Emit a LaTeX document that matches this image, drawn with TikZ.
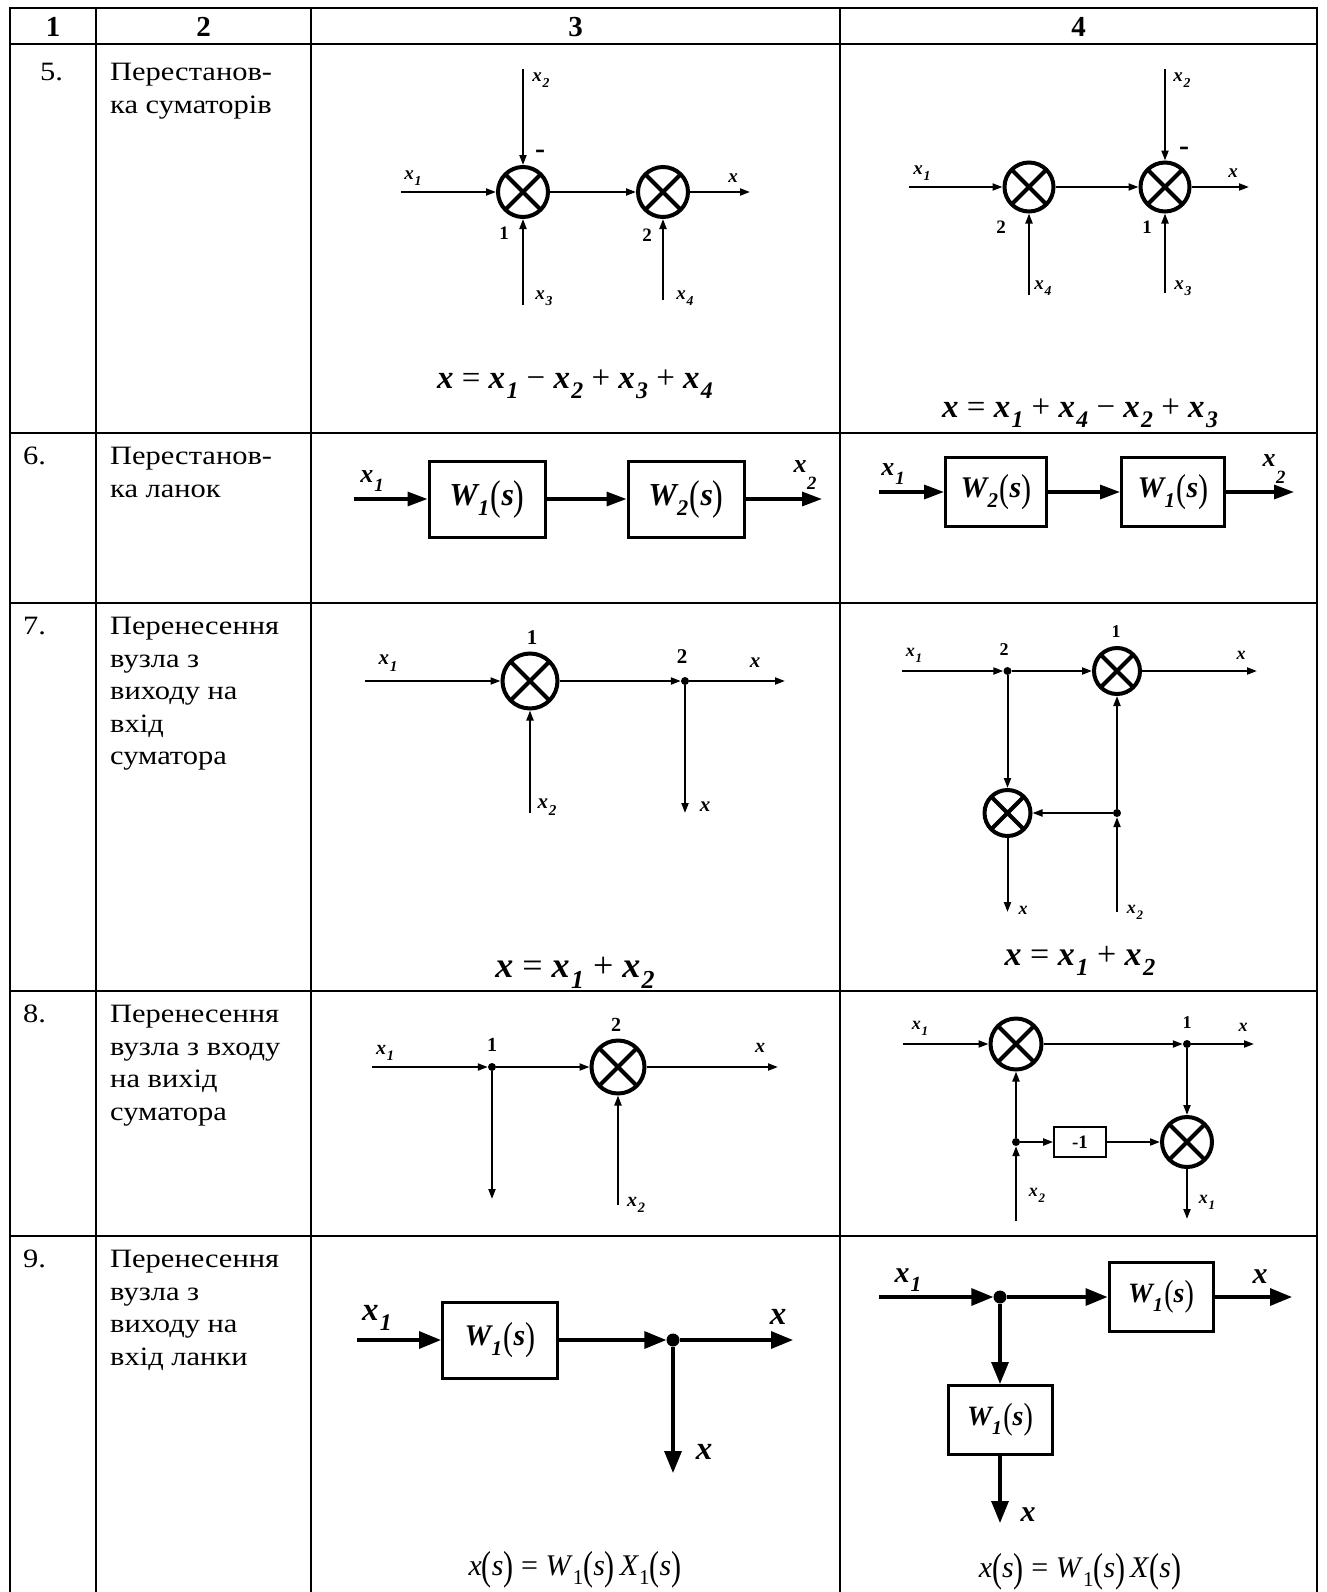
\documentclass[tikz,border=0pt]{standalone}
\usepackage{fontspec}
\setmainfont{Liberation Serif}
\newfontfamily\tabfont{Liberation Serif}[FakeStretch=1.15]
\usetikzlibrary{arrows.meta}
\newcommand\fsz[1]{\fontsize{#1}{#1}\selectfont}
\newcommand\bi[1]{\textbf{\textit{#1}}}
\newcommand\xs[1]{\bi{x}\kern0.04em\raisebox{-0.32em}{\scalebox{0.72}{\bi{#1}}}}
\newcommand\xd[1]{\bi{x}\kern0.02em\raisebox{-0.65em}{\scalebox{0.72}{\bi{#1}}}}
\newcommand\bpar[1]{\raisebox{-0.12em}{\scalebox{1}[1.3]{(}}#1\raisebox{-0.12em}{\scalebox{1}[1.3]{)}}}
\newcommand\Wb[1]{\bi{W}\kern-0.05em\raisebox{-0.32em}{\scalebox{0.7}{\bi{#1}}}\kern0.05em\bpar{\bi{s}}}
\newcommand\sbr[1]{\raisebox{-0.3em}{\scalebox{0.7}{#1}}}
\newcommand\rpar[1]{\raisebox{-0.15em}{\scalebox{1}[1.35]{(}}#1\raisebox{-0.15em}{\scalebox{1}[1.35]{)}}}
\tikzset{
  tabline/.style={line width=2.5pt,line cap=rect},
  lb/.style={inner sep=0pt},
  con/.style={line width=2pt,-{Triangle[length=10pt,width=7pt]}},
  bcon/.style={line width=3.2pt,-{Triangle[length=20pt,width=14pt]}},
  vcon/.style={line width=3.3pt,-{Triangle[length=22pt,width=17pt]}},
  sumx/.style={circle,draw,line width=4pt,inner sep=0pt,
     path picture={\draw[line width=4pt] (path picture bounding box.north west) -- (path picture bounding box.south east) (path picture bounding box.north east) -- (path picture bounding box.south west);}},
  dotn/.style={circle,fill,inner sep=0pt,minimum size=8pt},
  blk/.style={draw,line width=3pt,inner sep=0pt},
  ctext/.style={anchor=north west,align=left,inner sep=0pt,font=\tabfont\fontsize{26.5}{32.5}\selectfont},
  hdr/.style={inner sep=0pt,font=\fsz{29}\bfseries},
  minus/.style={inner sep=0pt,font=\fsz{30}\bfseries},
}
\begin{document}
\begin{tikzpicture}[x=1pt,y=-1pt]
\useasboundingbox (0,0) rectangle (1327,1592);
% ---------- table ----------
\foreach \yy in {8,44,433,603,991,1236} \draw[tabline] (10,\yy) -- (1317,\yy);
\foreach \xx in {10,96,311,840,1317} \draw[tabline] (\xx,8) -- (\xx,1592);
\node[hdr] (hd1) at (53,27) {1};
\node[hdr] (hd2) at (203.5,27) {2};
\node[hdr] (hd3) at (575.5,27) {3};
\node[hdr] (hd4) at (1078.5,27) {4};
\node[ctext] (n5) at (40,63) {5.};
\node[ctext] (n6) at (23,447) {6.};
\node[ctext] (n7) at (23,617) {7.};
\node[ctext] (n8) at (23,1005) {8.};
\node[ctext] (n9) at (23,1250) {9.};
\node[ctext] (t5) at (110,63) {Перестанов-\\ка суматорів};
\node[ctext] (t6) at (110,447) {Перестанов-\\ка ланок};
\node[ctext] (t7) at (110,617) {Перенесення\\вузла з\\виходу на\\вхід\\суматора};
\node[ctext] (t8) at (110,1005) {Перенесення\\вузла з входу\\на вихід\\суматора};
\node[ctext] (t9) at (110,1250) {Перенесення\\вузла з\\виходу на\\вхід ланки};
% ---------- row 5, col 3 ----------
\node[sumx,minimum size=50pt] (a1) at (523,192) {};
\node[sumx,minimum size=50pt] (a2) at (663,192) {};
\coordinate (a1in) at (401,192);
\coordinate (a2out) at (750,192);
\coordinate (a1top) at (523,69);
\coordinate (a1bot) at (523,305);
\coordinate (a2bot) at (663,300);
\draw[con] (a1in) -- (a1);
\draw[con] (a1) -- (a2);
\draw[con] (a2) -- (a2out);
\draw[con] (a1top) -- (a1);
\draw[con] (a1bot) -- (a1);
\draw[con] (a2bot) -- (a2);
\node[lb,font=\fsz{19}] (a1l) at (413,178) {\xs{1}};
\node[lb,font=\fsz{19}] (a2l) at (733,178) {\bi{x}};
\node[lb,font=\fsz{19}] (a1tl) at (541,80) {\xs{2}};
\node[minus] (a1m) at (540,154) {-};
\node[lb,font=\fsz{19}\bfseries] (a1n) at (504,233) {1};
\node[lb,font=\fsz{19}\bfseries] (a2n) at (647,235) {2};
\node[lb,font=\fsz{19}] (a1bl) at (544,298) {\xs{3}};
\node[lb,font=\fsz{19}] (a2bl) at (685,298) {\xs{4}};
\node[lb,font=\fsz{33},anchor=base] (a5f) at (575,388) {\bi{x} = \xs{1} − \xs{2} + \xs{3} + \xs{4}};
% ---------- row 5, col 4 ----------
\node[sumx,minimum size=49pt] (b2) at (1029,187) {};
\node[sumx,minimum size=49pt] (b1) at (1165,187) {};
\coordinate (b2in) at (909,187);
\coordinate (b1out) at (1249,187);
\coordinate (b1top) at (1165,69);
\coordinate (b2bot) at (1029,295);
\coordinate (b1bot) at (1165,293);
\draw[con] (b2in) -- (b2);
\draw[con] (b2) -- (b1);
\draw[con] (b1) -- (b1out);
\draw[con] (b1top) -- (b1);
\draw[con] (b2bot) -- (b2);
\draw[con] (b1bot) -- (b1);
\node[lb,font=\fsz{19}] (b2l) at (922,173) {\xs{1}};
\node[lb,font=\fsz{19}] (b1l) at (1233,173) {\bi{x}};
\node[lb,font=\fsz{19}] (b1tl) at (1182,80) {\xs{2}};
\node[minus] (b1m) at (1184,151) {-};
\node[lb,font=\fsz{19}\bfseries] (b2n) at (1001,227) {2};
\node[lb,font=\fsz{19}\bfseries] (b1n) at (1147,227) {1};
\node[lb,font=\fsz{19}] (b2bl) at (1043,288) {\xs{4}};
\node[lb,font=\fsz{19}] (b1bl) at (1183,288) {\xs{3}};
\node[lb,font=\fsz{33},anchor=base] (b5f) at (1080,417) {\bi{x} = \xs{1} + \xs{4} − \xs{2} + \xs{3}};
% ---------- row 6, col 3 ----------
\node[blk,minimum width=116pt,minimum height=76pt,font=\fsz{32}] (c1) at (487,499) {\Wb{1}};
\node[blk,minimum width=116pt,minimum height=76pt,font=\fsz{32}] (c2) at (686,499) {\Wb{2}};
\coordinate (c1in) at (354,499);
\coordinate (c2out) at (822,499);
\draw[bcon] (c1in) -- (c1);
\draw[bcon] (c1) -- (c2);
\draw[bcon] (c2) -- (c2out);
\node[lb,font=\fsz{26}] (c1l) at (372,481) {\xs{1}};
\node[lb,font=\fsz{26}] (c2l) at (805,475) {\xd{2}};
% ---------- row 6, col 4 ----------
\node[blk,minimum width=101pt,minimum height=69pt,font=\fsz{30}] (d2) at (996,492) {\Wb{2}};
\node[blk,minimum width=103pt,minimum height=69pt,font=\fsz{30}] (d1) at (1173,492) {\Wb{1}};
\coordinate (d2in) at (879,492);
\coordinate (d1out) at (1294,492);
\draw[bcon] (d2in) -- (d2);
\draw[bcon] (d2) -- (d1);
\draw[bcon] (d1) -- (d1out);
\node[lb,font=\fsz{26}] (d2l) at (893,474) {\xs{1}};
\node[lb,font=\fsz{26}] (d1l) at (1274,469) {\xd{2}};
% ---------- row 7, col 3 ----------
\node[sumx,minimum size=55pt] (e1) at (530,681) {};
\node[dotn] (e2) at (685,681) {};
\coordinate (e1in) at (365,681);
\coordinate (e2out) at (785,681);
\coordinate (e2dn) at (685,813);
\coordinate (e1x2) at (530,813);
\draw[con] (e1in) -- (e1);
\draw[con] (e1) -- (e2);
\draw[con] (e2) -- (e2out);
\draw[con] (e2) -- (e2dn);
\draw[con] (e1x2) -- (e1);
\node[lb,font=\fsz{21}\bfseries] (e1n) at (532,638) {1};
\node[lb,font=\fsz{21}\bfseries] (e2n) at (682,657) {2};
\node[lb,font=\fsz{21}] (e1l) at (388,663) {\xs{1}};
\node[lb,font=\fsz{21}] (e2l) at (755,663) {\bi{x}};
\node[lb,font=\fsz{21}] (e2dl) at (705,807) {\bi{x}};
\node[lb,font=\fsz{21}] (e1xl) at (547,807) {\xs{2}};
\node[lb,font=\fsz{36},anchor=base] (e7f) at (575,977) {\bi{x} = \xs{1} + \xs{2}};
% ---------- row 7, col 4 ----------
\node[dotn] (f0) at (1007.5,671) {};
\node[sumx,minimum size=46pt] (f1) at (1117,671) {};
\node[sumx,minimum size=46pt] (f2) at (1007.5,813) {};
\node[dotn] (f3) at (1117,813) {};
\coordinate (f0in) at (902,671);
\coordinate (f1out) at (1257,671);
\coordinate (f3x2) at (1117,912);
\coordinate (f2out) at (1007.5,912);
\draw[con] (f0in) -- (f0);
\draw[con] (f0) -- (f1);
\draw[con] (f1) -- (f1out);
\draw[con] (f0) -- (f2);
\draw[con] (f3) -- (f2);
\draw[con] (f3) -- (f1);
\draw[con] (f3x2) -- (f3);
\draw[con] (f2) -- (f2out);
\node[lb,font=\fsz{18}\bfseries] (f0n) at (1004,650) {2};
\node[lb,font=\fsz{18}\bfseries] (f1n) at (1116,632) {1};
\node[lb,font=\fsz{18}] (f0l) at (914,655) {\xs{1}};
\node[lb,font=\fsz{18}] (f1l) at (1241,655) {\bi{x}};
\node[lb,font=\fsz{18}] (f3l) at (1135,912) {\xs{2}};
\node[lb,font=\fsz{18}] (f2l) at (1023,910) {\bi{x}};
\node[lb,font=\fsz{34},anchor=base] (f7f) at (1080,965) {\bi{x} = \xs{1} + \xs{2}};
% ---------- row 8, col 3 ----------
\node[dotn] (g0) at (492,1067) {};
\node[sumx,minimum size=53pt] (g1) at (618,1067) {};
\coordinate (g0in) at (372,1067);
\coordinate (g1out) at (778,1067);
\coordinate (g0dn) at (492,1199);
\coordinate (g1x2) at (618,1205);
\draw[con] (g0in) -- (g0);
\draw[con] (g0) -- (g1);
\draw[con] (g1) -- (g1out);
\draw[con] (g0) -- (g0dn);
\draw[con] (g1x2) -- (g1);
\node[lb,font=\fsz{20}\bfseries] (g0n) at (492,1045) {1};
\node[lb,font=\fsz{20}\bfseries] (g1n) at (616,1025) {2};
\node[lb,font=\fsz{20}] (g0l) at (385,1053) {\xs{1}};
\node[lb,font=\fsz{20}] (g1l) at (760,1048) {\bi{x}};
\node[lb,font=\fsz{20}] (g1xl) at (636,1205) {\xs{2}};
% ---------- row 8, col 4 ----------
\node[sumx,minimum size=51pt] (k1) at (1016,1044) {};
\node[dotn] (k0) at (1187,1044) {};
\node[sumx,minimum size=50pt] (k2) at (1187,1142) {};
\node[dotn] (k3) at (1016,1142) {};
\node[draw,line width=1.7pt,minimum width=52pt,minimum height=30pt,inner sep=0pt,font=\fsz{19}\bfseries] (kb) at (1080,1142) {-1};
\coordinate (k1in) at (903,1044);
\coordinate (k0out) at (1254,1044);
\coordinate (k3x2) at (1016,1221);
\coordinate (k2out) at (1187,1219);
\draw[con] (k1in) -- (k1);
\draw[con] (k1) -- (k0);
\draw[con] (k0) -- (k0out);
\draw[con] (k0) -- (k2);
\draw[con] (k3) -- (k1);
\draw[con] (k3) -- (kb);
\draw[con] (kb) -- (k2);
\draw[con] (k3x2) -- (k3);
\draw[con] (k2) -- (k2out);
\node[lb,font=\fsz{18}\bfseries] (k0n) at (1187,1023) {1};
\node[lb,font=\fsz{18}] (k1l) at (920,1028) {\xs{1}};
\node[lb,font=\fsz{18}] (k0l) at (1243,1027) {\bi{x}};
\node[lb,font=\fsz{18}] (k3l) at (1037,1195) {\xs{2}};
\node[lb,font=\fsz{18}] (k2l) at (1207,1202) {\xs{1}};
% ---------- row 9, col 3 ----------
\node[blk,minimum width=115pt,minimum height=76pt,font=\fsz{30}] (m1) at (500,1340) {\Wb{1}};
\node[dotn,minimum size=13pt] (m0) at (673,1340) {};
\coordinate (m1in) at (357,1340);
\coordinate (m0out) at (793,1340);
\coordinate (m0dn) at (673,1473);
\draw[vcon] (m1in) -- (m1);
\draw[vcon] (m1) -- (m0);
\draw[vcon] (m0) -- (m0out);
\draw[vcon] (m0) -- (m0dn);
\node[lb,font=\fsz{33}] (m1l) at (377,1318) {\xs{1}};
\node[lb,font=\fsz{33}] (m0l) at (778,1317) {\bi{x}};
\node[lb,font=\fsz{33}] (m0dl) at (704,1452) {\bi{x}};
\node[lb,font=\fsz{30},anchor=base] (m9f) at (575,1575) {\textit{x}\rpar{\textit{s}} = \textit{W}\sbr{1}\rpar{\textit{s}}\,\textit{X}\sbr{1}\rpar{\textit{s}}};
% ---------- row 9, col 4 ----------
\node[dotn,minimum size=13pt] (p0) at (1000,1297) {};
\node[blk,minimum width=104pt,minimum height=69pt,font=\fsz{28}] (p1) at (1161,1297) {\Wb{1}};
\node[blk,minimum width=104pt,minimum height=69pt,font=\fsz{28}] (p2) at (1000,1420) {\Wb{1}};
\coordinate (p0in) at (879,1297);
\coordinate (p1out) at (1292,1297);
\coordinate (p2dn) at (1000,1523);
\draw[vcon] (p0in) -- (p0);
\draw[vcon] (p0) -- (p1);
\draw[vcon] (p1) -- (p1out);
\draw[vcon] (p0) -- (p2);
\draw[vcon] (p2) -- (p2dn);
\node[lb,font=\fsz{30}] (p0l) at (908,1280) {\xs{1}};
\node[lb,font=\fsz{30}] (p1l) at (1260,1277) {\bi{x}};
\node[lb,font=\fsz{30}] (p2l) at (1028,1515) {\bi{x}};
\node[lb,font=\fsz{30},anchor=base] (p9f) at (1080,1577) {\textit{x}\rpar{\textit{s}} = \textit{W}\sbr{1}\rpar{\textit{s}}\,\textit{X}\rpar{\textit{s}}};
\end{tikzpicture}
\end{document}
